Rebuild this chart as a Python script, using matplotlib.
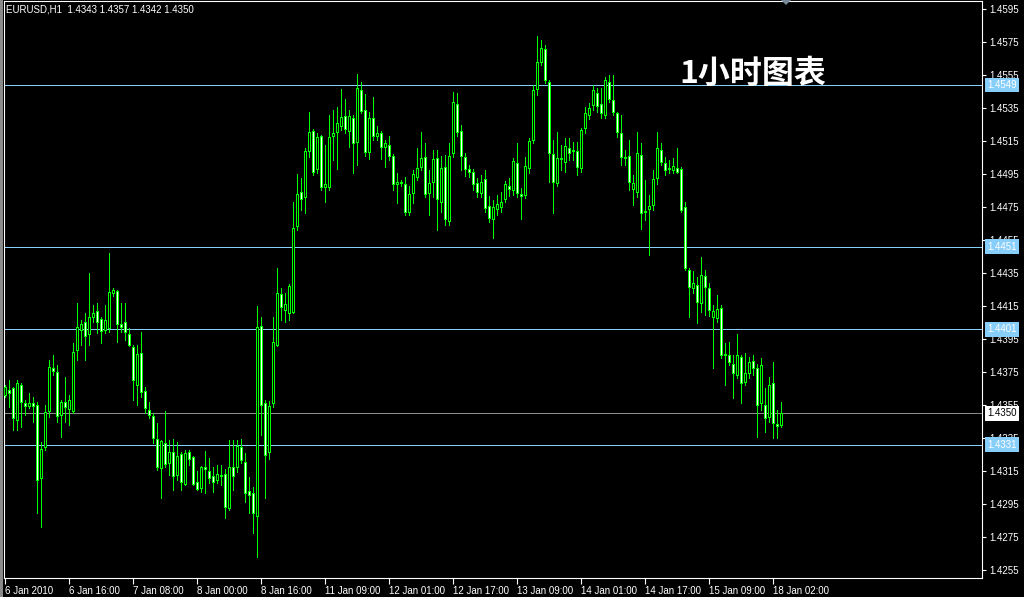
import matplotlib
matplotlib.use("Agg")
import matplotlib.pyplot as plt
from matplotlib.patches import Rectangle, Polygon
from matplotlib.transforms import blended_transform_factory

# ---------------- data (EURUSD H1, 6 Jan 2010 00:00 -> 18 Jan 2010 04:00) -------------
open_ = [1.4361, 1.4364, 1.43653, 1.4346, 1.43672, 1.43563, 1.43545, 1.43563, 1.4355, 1.43108,
         1.43296, 1.43514, 1.43775, 1.4375, 1.4349, 1.43569, 1.43526, 1.43514, 1.43884, 1.44005,
         1.44053, 1.43981, 1.44084, 1.4412, 1.44072, 1.44005, 1.44017, 1.44229, 1.44241, 1.44041,
         1.44053, 1.43981, 1.43902, 1.43672, 1.43866, 1.43635, 1.4352, 1.43484, 1.43344, 1.43169,
         1.4332, 1.43199, 1.43266, 1.43126, 1.43253, 1.43072, 1.43266, 1.43235, 1.43084, 1.43047,
         1.43175, 1.4315, 1.4312, 1.43096, 1.43126, 1.43132, 1.42926, 1.43175, 1.43175, 1.43296,
         1.43205, 1.43029, 1.43017, 1.42878, 1.44029, 1.43563, 1.43266, 1.43563, 1.43914, 1.44223,
         1.44126, 1.44108, 1.44114, 1.44635, 1.44841, 1.44811, 1.4509, 1.45211, 1.44981, 1.45181,
         1.44872, 1.44872, 1.45181, 1.45205, 1.45241, 1.45302, 1.45211, 1.4529, 1.45144, 1.4546,
         1.45338, 1.45084, 1.4529, 1.45181, 1.45199, 1.45114, 1.45126, 1.4506, 1.4489, 1.44902,
         1.4489, 1.4472, 1.44835, 1.44932, 1.44993, 1.45054, 1.44835, 1.44902, 1.45047, 1.44781,
         1.44993, 1.44666, 1.45078, 1.45375, 1.45211, 1.45054, 1.44981, 1.44963, 1.44896, 1.44835,
         1.4492, 1.44756, 1.44678, 1.44738, 1.4475, 1.44799, 1.44878, 1.44853, 1.45017, 1.4483,
         1.44823, 1.44987, 1.45157, 1.45466, 1.45629, 1.45708, 1.45508, 1.45072, 1.44896, 1.45047,
         1.45023, 1.45108, 1.4509, 1.4509, 1.44987, 1.45229, 1.45308, 1.45369, 1.45441, 1.45375,
         1.45308, 1.45508, 1.45399, 1.4532, 1.45199, 1.45054, 1.4506, 1.4486, 1.44841, 1.45066,
         1.4472, 1.44738, 1.44763, 1.44926, 1.45096, 1.45017, 1.44981, 1.44975, 1.44987, 1.44981,
         1.4475, 1.44369, 1.4426, 1.44278, 1.44169, 1.44332, 1.4426, 1.44084, 1.44078, 1.44138,
         1.43853, 1.43853, 1.43799, 1.43732, 1.43841, 1.4369, 1.43744, 1.43817, 1.43775, 1.43563,
         1.4355, 1.43478, 1.43684, 1.43435, 1.4343]
high = [1.43672, 1.43702, 1.4366, 1.437, 1.43684, 1.4358, 1.43623, 1.43599, 1.43569, 1.43326,
        1.4355, 1.43823, 1.43853, 1.43793, 1.4358, 1.4372, 1.4361, 1.43926, 1.44169, 1.44066,
        1.44108, 1.4435, 1.44157, 1.44169, 1.44084, 1.44157, 1.44472, 1.4426, 1.44247, 1.44169,
        1.44169, 1.4402, 1.43914, 1.43914, 1.43993, 1.4366, 1.43569, 1.43502, 1.4344, 1.43338,
        1.43514, 1.43338, 1.43344, 1.43326, 1.43266, 1.43278, 1.43278, 1.4324, 1.4315, 1.4318,
        1.4327, 1.4323, 1.43175, 1.43187, 1.43187, 1.43163, 1.43338, 1.43338, 1.43338, 1.43344,
        1.4326, 1.43114, 1.43053, 1.44151, 1.44084, 1.4358, 1.43575, 1.44084, 1.4438, 1.4426,
        1.44229, 1.44284, 1.44781, 1.4495, 1.44926, 1.45108, 1.45326, 1.45223, 1.45199, 1.45187,
        1.45126, 1.45308, 1.45338, 1.45357, 1.45466, 1.45405, 1.45338, 1.45308, 1.45557, 1.45508,
        1.45435, 1.45326, 1.45417, 1.45241, 1.45211, 1.45157, 1.45181, 1.45072, 1.44956, 1.44914,
        1.44932, 1.44878, 1.44975, 1.45108, 1.45205, 1.45138, 1.44975, 1.45096, 1.45096, 1.4506,
        1.45066, 1.45138, 1.45447, 1.45441, 1.45247, 1.45078, 1.45005, 1.44981, 1.44926, 1.44944,
        1.44975, 1.44817, 1.44793, 1.44823, 1.44841, 1.44908, 1.44926, 1.45047, 1.45138, 1.44866,
        1.45054, 1.45169, 1.4549, 1.45787, 1.45763, 1.45732, 1.4552, 1.45157, 1.45205, 1.45126,
        1.45169, 1.45169, 1.45144, 1.45144, 1.45229, 1.45357, 1.45381, 1.4549, 1.45472, 1.45472,
        1.45538, 1.4555, 1.4555, 1.45326, 1.45308, 1.45096, 1.45157, 1.44944, 1.45205, 1.45138,
        1.44914, 1.44823, 1.44975, 1.45205, 1.45138, 1.45054, 1.45035, 1.45047, 1.45108, 1.44993,
        1.44781, 1.44381, 1.44363, 1.44326, 1.44447, 1.44369, 1.4429, 1.44154, 1.44217, 1.44157,
        1.43926, 1.43932, 1.43853, 1.43981, 1.43853, 1.43866, 1.43841, 1.43853, 1.43799, 1.43835,
        1.43653, 1.4372, 1.43811, 1.4352, 1.4357]
low = [1.43599, 1.43538, 1.43399, 1.434, 1.43417, 1.4349, 1.43532, 1.43447, 1.42896, 1.42811,
       1.43278, 1.43478, 1.43732, 1.43448, 1.43357, 1.43447, 1.4343, 1.43502, 1.43823, 1.43914,
       1.43823, 1.43914, 1.44053, 1.43987, 1.43926, 1.43987, 1.43993, 1.4421, 1.43932, 1.43993,
       1.43944, 1.4391, 1.4358, 1.4355, 1.436, 1.43502, 1.43473, 1.43321, 1.43157, 1.42987,
       1.43175, 1.43126, 1.43035, 1.43096, 1.43035, 1.43066, 1.43187, 1.43066, 1.43035, 1.43023,
       1.43017, 1.43078, 1.43023, 1.43078, 1.43066, 1.42866, 1.42914, 1.43035, 1.43144, 1.43199,
       1.42962, 1.42896, 1.42775, 1.42629, 1.43369, 1.42987, 1.43223, 1.43538, 1.43908, 1.44066,
       1.44053, 1.44066, 1.44108, 1.4461, 1.44732, 1.44714, 1.45054, 1.44944, 1.44956, 1.44853,
       1.44781, 1.44853, 1.45035, 1.44981, 1.45217, 1.45199, 1.45114, 1.44956, 1.45005, 1.4532,
       1.4506, 1.45041, 1.45157, 1.45157, 1.45041, 1.44993, 1.45035, 1.44853, 1.44775, 1.44878,
       1.44702, 1.44702, 1.44775, 1.44917, 1.44975, 1.44811, 1.44699, 1.44811, 1.44611, 1.4472,
       1.44641, 1.44641, 1.45054, 1.45181, 1.44975, 1.44938, 1.44932, 1.44853, 1.44811, 1.44811,
       1.4472, 1.4466, 1.44563, 1.44702, 1.4472, 1.44781, 1.44817, 1.44823, 1.44811, 1.44678,
       1.44808, 1.44956, 1.45138, 1.4543, 1.4561, 1.45502, 1.44902, 1.44714, 1.44878, 1.44975,
       1.44963, 1.45035, 1.45035, 1.44944, 1.44963, 1.45199, 1.45284, 1.45338, 1.45326, 1.4529,
       1.4529, 1.45387, 1.45308, 1.45175, 1.45005, 1.45005, 1.44853, 1.44763, 1.44811, 1.44618,
       1.44672, 1.4446, 1.44732, 1.4489, 1.45005, 1.44944, 1.44956, 1.44956, 1.44956, 1.4472,
       1.44369, 1.44084, 1.44229, 1.44047, 1.44114, 1.44096, 1.4409, 1.43775, 1.44053, 1.43835,
       1.43672, 1.43793, 1.43593, 1.43714, 1.43563, 1.43672, 1.43714, 1.43732, 1.43357, 1.4352,
       1.43384, 1.4345, 1.4335, 1.4335, 1.4342]
close = [1.4366, 1.43623, 1.43472, 1.43684, 1.43569, 1.43545, 1.43563, 1.43545, 1.43096, 1.43284,
         1.43508, 1.43781, 1.43757, 1.43484, 1.43569, 1.43538, 1.4358, 1.43872, 1.44023, 1.44041,
         1.43969, 1.44084, 1.44108, 1.44053, 1.43999, 1.44066, 1.44235, 1.44247, 1.44041, 1.44023,
         1.43993, 1.43914, 1.43699, 1.4386, 1.43629, 1.43532, 1.4349, 1.4335, 1.43175, 1.43332,
         1.43193, 1.43266, 1.4312, 1.43241, 1.43084, 1.4326, 1.43223, 1.43072, 1.43041, 1.43175,
         1.43163, 1.43108, 1.43084, 1.43132, 1.4312, 1.42932, 1.43175, 1.4312, 1.43302, 1.43217,
         1.43017, 1.43005, 1.42896, 1.44023, 1.4355, 1.43248, 1.43545, 1.43932, 1.44229, 1.44144,
         1.44163, 1.44272, 1.44623, 1.4483, 1.44799, 1.4509, 1.45205, 1.44963, 1.45175, 1.44872,
         1.4489, 1.45175, 1.45199, 1.4526, 1.45296, 1.45223, 1.45302, 1.45138, 1.45472, 1.45332,
         1.45084, 1.4529, 1.45181, 1.45199, 1.45114, 1.45138, 1.4506, 1.4489, 1.44902, 1.44896,
         1.4472, 1.4483, 1.4495, 1.44987, 1.45047, 1.4483, 1.44896, 1.45041, 1.44799, 1.44987,
         1.44675, 1.4506, 1.45387, 1.45205, 1.4506, 1.44981, 1.44963, 1.4489, 1.44841, 1.44902,
         1.44745, 1.44684, 1.4475, 1.44769, 1.44781, 1.4489, 1.4486, 1.45029, 1.44835, 1.44817,
         1.44999, 1.4515, 1.4546, 1.45629, 1.45714, 1.4552, 1.45078, 1.44902, 1.45047, 1.45041,
         1.4512, 1.45078, 1.45096, 1.44993, 1.45217, 1.4532, 1.4535, 1.4546, 1.45363, 1.45321,
         1.4552, 1.45405, 1.45326, 1.45205, 1.45054, 1.45047, 1.44902, 1.44896, 1.45078, 1.44714,
         1.44726, 1.44756, 1.4492, 1.45108, 1.45023, 1.44975, 1.44987, 1.44999, 1.44963, 1.44732,
         1.44381, 1.44266, 1.4429, 1.44175, 1.44338, 1.44266, 1.44126, 1.4412, 1.44132, 1.43853,
         1.4386, 1.43811, 1.43744, 1.43853, 1.43684, 1.43744, 1.43811, 1.43775, 1.4355, 1.43793,
         1.43472, 1.43672, 1.43442, 1.43423, 1.4350]

date_labels = ['6 Jan 2010', '6 Jan 16:00', '7 Jan 08:00', '8 Jan 00:00', '8 Jan 16:00',
               '11 Jan 09:00', '12 Jan 01:00', '12 Jan 17:00', '13 Jan 09:00', '14 Jan 01:00',
               '14 Jan 17:00', '15 Jan 09:00', '18 Jan 02:00']
price_ticks = [1.4255, 1.4275, 1.4295, 1.4315, 1.4335, 1.4355, 1.4375, 1.4395, 1.4415,
               1.4435, 1.4455, 1.4475, 1.4495, 1.4515, 1.4535, 1.4555, 1.4575, 1.4595]
level_lines = [1.4549, 1.4451, 1.4401, 1.4331]
bid_price = 1.4350
title_text = 'EURUSD,H1  1.4343 1.4357 1.4342 1.4350'
caption_text = '1小时图表'

# ---------------- style ----------------
LIME = '#00ff00'
LEVEL = '#87cefa'
plt.rcParams['font.family'] = ['Liberation Sans', 'DejaVu Sans']
LW = 0.6

W, H = 1024, 597
fig = plt.figure(figsize=(W / 100, H / 100), dpi=100, facecolor='black')
ax = fig.add_axes([4 / W, 19 / H, 978 / W, 577 / H])
ax.set_facecolor('black')
for s in ax.spines.values():
    s.set_color('white')
    s.set_linewidth(0.8)

ax.set_xlim(-0.325, 244.2)
ax.set_ylim(1.42502, 1.45999)

# level lines
for lv in level_lines:
    ax.axhline(lv, color=LEVEL, lw=0.72, antialiased=False, zorder=1)
ax.axhline(bid_price, color='#8c8c8c', lw=0.72, antialiased=False, zorder=1)

# candles
bw = 0.5
for i, (o, h, l, c) in enumerate(zip(open_, high, low, close)):
    ax.vlines(i, l, h, color=LIME, lw=LW, antialiased=False, zorder=2)
    bottom = min(o, c)
    height = max(abs(c - o), 1e-6)
    face = 'black' if c >= o else 'white'
    ax.add_patch(Rectangle((i - bw / 2, bottom), bw, height, facecolor=face,
                           edgecolor=LIME, lw=LW, antialiased=False, zorder=3))

# axes ticks
ax.yaxis.tick_right()
ax.set_yticks(price_ticks)
ax.set_yticklabels([f'{p:.4f}' for p in price_ticks])
ax.tick_params(axis='y', colors='white', length=3, width=0.8, pad=2, labelsize=7)
ax.set_xticks(list(range(0, 16 * len(date_labels), 16)))
ax.set_xticklabels(date_labels)
ax.tick_params(axis='x', colors='white', length=4, width=0.8, pad=1.5, labelsize=7)
for t in ax.get_xticklabels():
    t.set_horizontalalignment('left')

# price labels for lines (they sit over the axis labels, as in the terminal)
tr = blended_transform_factory(ax.transAxes, ax.transData)
xlab = 1.0 + 5 / 978
for lv in level_lines:
    ax.text(xlab, lv, f'{lv:.4f}', transform=tr, ha='left', va='center', fontsize=7,
            color='white', clip_on=False, zorder=5,
            bbox=dict(boxstyle='square,pad=0.25', fc=LEVEL, ec='none'))
ax.text(xlab, bid_price, f'{bid_price:.4f}', transform=tr, ha='left', va='center', fontsize=7,
        color='black', clip_on=False, zorder=5,
        bbox=dict(boxstyle='square,pad=0.25', fc='white', ec='none'))

# title and caption
fig.text(6 / W, 1 - 9 / H, title_text, ha='left', va='center', fontsize=7, color='white')
fig.text(679 / W, 1 - 74 / H, caption_text, ha='left', va='center', fontsize=23,
         color='white', fontweight='bold', family=['Noto Sans CJK SC', 'DejaVu Sans'])

# chart-shift marker and left frame strip
fig.patches.append(Polygon([(781 / W, 1), (791 / W, 1), (786 / W, 1 - 5 / H)], closed=True,
                           transform=fig.transFigure, fc='#778899', ec='none'))
fig.patches.append(Rectangle((0, 0), 2.5 / W, 1, transform=fig.transFigure,
                             fc='#8a8a8a', ec='none'))

fig.savefig('out.png', dpi=100, facecolor='black')
